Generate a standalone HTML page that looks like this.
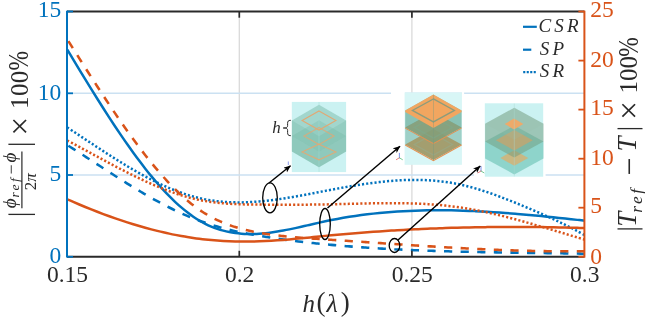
<!DOCTYPE html>
<html><head><meta charset="utf-8"><title>Figure</title>
<style>html,body{margin:0;padding:0;background:#fff;overflow:hidden}svg{display:block;will-change:transform;opacity:0.999}</style>
</head><body>
<svg width="645" height="321" viewBox="0 0 645 321">
<rect width="645" height="321" fill="#fff"/>
<line x1="239.3" y1="11.5" x2="239.3" y2="256.8" stroke="#dadada" stroke-width="1.3"/>
<line x1="411.9" y1="11.5" x2="411.9" y2="256.8" stroke="#dadada" stroke-width="1.3"/>
<line x1="67.0" y1="93.3" x2="584.4" y2="93.3" stroke="#cbe1f2" stroke-width="1.4"/>
<line x1="67.0" y1="175.0" x2="584.4" y2="175.0" stroke="#cbe1f2" stroke-width="1.4"/>
<rect x="518" y="13" width="65" height="74" fill="#fff"/>
<g clip-path="url(#clip)">
<path d="M67.30 145.08 C67.80 145.39 69.30 146.33 70.30 146.97 C71.30 147.60 72.30 148.23 73.30 148.87 C74.30 149.50 75.30 150.14 76.30 150.78 C77.30 151.42 78.30 152.06 79.30 152.70 C80.30 153.34 81.30 153.99 82.30 154.63 C83.30 155.27 84.30 155.92 85.30 156.57 C86.30 157.21 87.30 157.86 88.30 158.51 C89.30 159.16 90.30 159.81 91.30 160.45 C92.30 161.10 93.30 161.75 94.30 162.40 C95.30 163.05 96.30 163.70 97.30 164.35 C98.30 165.00 99.30 165.65 100.30 166.30 C101.30 166.95 102.30 167.60 103.30 168.24 C104.30 168.89 105.30 169.54 106.30 170.19 C107.30 170.83 108.30 171.48 109.30 172.12 C110.30 172.77 111.30 173.41 112.30 174.05 C113.30 174.69 114.30 175.33 115.30 175.97 C116.30 176.61 117.30 177.25 118.30 177.88 C119.30 178.52 120.30 179.15 121.30 179.78 C122.30 180.42 123.30 181.05 124.30 181.67 C125.30 182.30 126.30 182.92 127.30 183.55 C128.30 184.17 129.30 184.79 130.30 185.40 C131.30 186.02 132.30 186.63 133.30 187.24 C134.30 187.85 135.30 188.46 136.30 189.07 C137.30 189.67 138.30 190.27 139.30 190.87 C140.30 191.46 141.30 192.06 142.30 192.65 C143.30 193.24 144.30 193.82 145.30 194.41 C146.30 194.99 147.30 195.57 148.30 196.14 C149.30 196.71 150.30 197.28 151.30 197.85 C152.30 198.41 153.30 198.97 154.30 199.53 C155.30 200.09 156.30 200.64 157.30 201.19 C158.30 201.73 159.30 202.27 160.30 202.81 C161.30 203.35 162.30 203.88 163.30 204.41 C164.30 204.93 165.30 205.45 166.30 205.97 C167.30 206.49 168.30 207.00 169.30 207.50 C170.30 208.00 171.30 208.50 172.30 209.00 C173.30 209.49 174.30 209.98 175.30 210.46 C176.30 210.94 177.30 211.41 178.30 211.88 C179.30 212.35 180.30 212.81 181.30 213.27 C182.30 213.72 183.30 214.17 184.30 214.61 C185.30 215.05 186.30 215.49 187.30 215.92 C188.30 216.34 189.30 216.77 190.30 217.18 C191.30 217.59 192.30 218.00 193.30 218.40 C194.30 218.80 195.30 219.19 196.30 219.57 C197.30 219.96 198.30 220.33 199.30 220.70 C200.30 221.07 201.30 221.43 202.30 221.79 C203.30 222.14 204.30 222.49 205.30 222.82 C206.30 223.16 207.30 223.50 208.30 223.82 C209.30 224.15 210.30 224.47 211.30 224.78 C212.30 225.09 213.30 225.40 214.30 225.70 C215.30 225.99 216.30 226.29 217.30 226.57 C218.30 226.86 219.30 227.14 220.30 227.42 C221.30 227.69 222.30 227.96 223.30 228.23 C224.30 228.49 225.30 228.75 226.30 229.00 C227.30 229.26 228.30 229.50 229.30 229.75 C230.30 229.99 231.30 230.23 232.30 230.46 C233.30 230.70 234.30 230.92 235.30 231.15 C236.30 231.37 237.30 231.59 238.30 231.81 C239.30 232.02 240.30 232.23 241.30 232.44 C242.30 232.65 243.30 232.85 244.30 233.05 C245.30 233.25 246.30 233.45 247.30 233.64 C248.30 233.83 249.30 234.02 250.30 234.21 C251.30 234.39 252.30 234.58 253.30 234.76 C254.30 234.94 255.30 235.11 256.30 235.29 C257.30 235.46 258.30 235.64 259.30 235.81 C260.30 235.97 261.30 236.14 262.30 236.31 C263.30 236.47 264.30 236.63 265.30 236.79 C266.30 236.96 267.30 237.11 268.30 237.27 C269.30 237.43 270.30 237.58 271.30 237.73 C272.30 237.89 273.30 238.04 274.30 238.19 C275.30 238.34 276.30 238.48 277.30 238.63 C278.30 238.77 279.30 238.91 280.30 239.06 C281.30 239.20 282.30 239.34 283.30 239.47 C284.30 239.61 285.30 239.75 286.30 239.88 C287.30 240.01 288.30 240.15 289.30 240.28 C290.30 240.41 291.30 240.54 292.30 240.66 C293.30 240.79 294.30 240.91 295.30 241.04 C296.30 241.16 297.30 241.28 298.30 241.40 C299.30 241.52 300.30 241.64 301.30 241.76 C302.30 241.88 303.30 241.99 304.30 242.11 C305.30 242.22 306.30 242.34 307.30 242.45 C308.30 242.56 309.30 242.67 310.30 242.78 C311.30 242.89 312.30 242.99 313.30 243.10 C314.30 243.20 315.30 243.31 316.30 243.41 C317.30 243.51 318.30 243.62 319.30 243.72 C320.30 243.82 321.30 243.92 322.30 244.01 C323.30 244.11 324.30 244.21 325.30 244.30 C326.30 244.40 327.30 244.49 328.30 244.59 C329.30 244.68 330.30 244.77 331.30 244.86 C332.30 244.95 333.30 245.04 334.30 245.13 C335.30 245.22 336.30 245.31 337.30 245.40 C338.30 245.48 339.30 245.57 340.30 245.65 C341.30 245.74 342.30 245.82 343.30 245.90 C344.30 245.98 345.30 246.07 346.30 246.15 C347.30 246.23 348.30 246.30 349.30 246.38 C350.30 246.46 351.30 246.54 352.30 246.61 C353.30 246.69 354.30 246.76 355.30 246.84 C356.30 246.91 357.30 246.99 358.30 247.06 C359.30 247.13 360.30 247.20 361.30 247.27 C362.30 247.34 363.30 247.41 364.30 247.48 C365.30 247.55 366.30 247.61 367.30 247.68 C368.30 247.75 369.30 247.81 370.30 247.87 C371.30 247.94 372.30 248.00 373.30 248.07 C374.30 248.13 375.30 248.19 376.30 248.25 C377.30 248.31 378.30 248.37 379.30 248.43 C380.30 248.49 381.30 248.55 382.30 248.61 C383.30 248.66 384.30 248.72 385.30 248.77 C386.30 248.83 387.30 248.89 388.30 248.94 C389.30 248.99 390.30 249.05 391.30 249.10 C392.30 249.15 393.30 249.20 394.30 249.25 C395.30 249.30 396.30 249.35 397.30 249.40 C398.30 249.45 399.30 249.50 400.30 249.55 C401.30 249.60 402.30 249.64 403.30 249.69 C404.30 249.74 405.30 249.78 406.30 249.83 C407.30 249.87 408.30 249.92 409.30 249.96 C410.30 250.00 411.30 250.05 412.30 250.09 C413.30 250.13 414.30 250.17 415.30 250.21 C416.30 250.25 417.30 250.29 418.30 250.33 C419.30 250.37 420.30 250.41 421.30 250.45 C422.30 250.49 423.30 250.52 424.30 250.56 C425.30 250.60 426.30 250.63 427.30 250.67 C428.30 250.71 429.30 250.74 430.30 250.77 C431.30 250.81 432.30 250.84 433.30 250.88 C434.30 250.91 435.30 250.94 436.30 250.97 C437.30 251.01 438.30 251.04 439.30 251.07 C440.30 251.10 441.30 251.13 442.30 251.16 C443.30 251.19 444.30 251.22 445.30 251.25 C446.30 251.28 447.30 251.31 448.30 251.34 C449.30 251.36 450.30 251.39 451.30 251.42 C452.30 251.45 453.30 251.47 454.30 251.50 C455.30 251.52 456.30 251.55 457.30 251.58 C458.30 251.60 459.30 251.63 460.30 251.65 C461.30 251.67 462.30 251.70 463.30 251.72 C464.30 251.75 465.30 251.77 466.30 251.79 C467.30 251.81 468.30 251.84 469.30 251.86 C470.30 251.88 471.30 251.90 472.30 251.92 C473.30 251.95 474.30 251.97 475.30 251.99 C476.30 252.01 477.30 252.03 478.30 252.05 C479.30 252.07 480.30 252.09 481.30 252.11 C482.30 252.13 483.30 252.15 484.30 252.16 C485.30 252.18 486.30 252.20 487.30 252.22 C488.30 252.24 489.30 252.26 490.30 252.27 C491.30 252.29 492.30 252.31 493.30 252.33 C494.30 252.34 495.30 252.36 496.30 252.38 C497.30 252.39 498.30 252.41 499.30 252.43 C500.30 252.44 501.30 252.46 502.30 252.48 C503.30 252.49 504.30 252.51 505.30 252.52 C506.30 252.54 507.30 252.55 508.30 252.57 C509.30 252.59 510.30 252.60 511.30 252.62 C512.30 252.63 513.30 252.65 514.30 252.66 C515.30 252.67 516.30 252.69 517.30 252.70 C518.30 252.72 519.30 252.73 520.30 252.75 C521.30 252.76 522.30 252.78 523.30 252.79 C524.30 252.80 525.30 252.82 526.30 252.83 C527.30 252.85 528.30 252.86 529.30 252.87 C530.30 252.89 531.30 252.90 532.30 252.92 C533.30 252.93 534.30 252.94 535.30 252.96 C536.30 252.97 537.30 252.98 538.30 253.00 C539.30 253.01 540.30 253.03 541.30 253.04 C542.30 253.05 543.30 253.07 544.30 253.08 C545.30 253.10 546.30 253.11 547.30 253.12 C548.30 253.14 549.30 253.15 550.30 253.17 C551.30 253.18 552.30 253.20 553.30 253.21 C554.30 253.22 555.30 253.24 556.30 253.25 C557.30 253.27 558.30 253.28 559.30 253.30 C560.30 253.31 561.30 253.33 562.30 253.34 C563.30 253.36 564.30 253.37 565.30 253.39 C566.30 253.40 567.30 253.42 568.30 253.43 C569.30 253.45 570.30 253.47 571.30 253.48 C572.30 253.50 573.30 253.51 574.30 253.53 C575.30 253.55 576.30 253.56 577.30 253.58 C578.30 253.60 579.30 253.62 580.30 253.63 C581.30 253.65 582.62 253.67 583.30 253.69 C583.98 253.70 584.22 253.70 584.40 253.71" fill="none" stroke="#0072BD" stroke-width="2.55" stroke-dasharray="8.2 8.4" stroke-dashoffset="15.10"/>
<path d="M67.30 127.46 C68.30 128.12 71.30 130.09 73.30 131.41 C75.30 132.73 77.30 134.05 79.30 135.37 C81.30 136.69 83.30 138.02 85.30 139.34 C87.30 140.67 89.30 141.99 91.30 143.31 C93.30 144.63 95.30 145.94 97.30 147.25 C99.30 148.56 101.30 149.87 103.30 151.16 C105.30 152.46 107.30 153.75 109.30 155.03 C111.30 156.30 113.30 157.57 115.30 158.83 C117.30 160.08 119.30 161.33 121.30 162.56 C123.30 163.78 125.30 165.00 127.30 166.20 C129.30 167.39 131.30 168.58 133.30 169.74 C135.30 170.90 137.30 172.04 139.30 173.16 C141.30 174.28 143.30 175.38 145.30 176.46 C147.30 177.53 149.30 178.58 151.30 179.61 C153.30 180.63 155.30 181.64 157.30 182.61 C159.30 183.58 161.30 184.52 163.30 185.44 C165.30 186.35 167.30 187.23 169.30 188.08 C171.30 188.93 173.30 189.75 175.30 190.53 C177.30 191.31 179.30 192.06 181.30 192.77 C183.30 193.48 185.30 194.16 187.30 194.79 C189.30 195.42 191.30 196.02 193.30 196.57 C195.30 197.12 197.30 197.63 199.30 198.10 C201.30 198.57 203.30 198.99 205.30 199.38 C207.30 199.76 209.30 200.10 211.30 200.41 C213.30 200.72 215.30 200.98 217.30 201.21 C219.30 201.45 221.30 201.64 223.30 201.80 C225.30 201.96 227.30 202.09 229.30 202.18 C231.30 202.28 233.30 202.34 235.30 202.37 C237.30 202.41 239.30 202.41 241.30 202.39 C243.30 202.36 245.30 202.31 247.30 202.23 C249.30 202.16 251.30 202.05 253.30 201.93 C255.30 201.80 257.30 201.65 259.30 201.48 C261.30 201.31 263.30 201.11 265.30 200.90 C267.30 200.69 269.30 200.46 271.30 200.21 C273.30 199.96 275.30 199.69 277.30 199.41 C279.30 199.13 281.30 198.84 283.30 198.53 C285.30 198.22 287.30 197.90 289.30 197.57 C291.30 197.24 293.30 196.89 295.30 196.54 C297.30 196.19 299.30 195.83 301.30 195.46 C303.30 195.10 305.30 194.72 307.30 194.35 C309.30 193.97 311.30 193.59 313.30 193.20 C315.30 192.82 317.30 192.43 319.30 192.05 C321.30 191.66 323.30 191.27 325.30 190.89 C327.30 190.50 329.30 190.12 331.30 189.74 C333.30 189.36 335.30 188.99 337.30 188.62 C339.30 188.25 341.30 187.88 343.30 187.52 C345.30 187.16 347.30 186.81 349.30 186.46 C351.30 186.12 353.30 185.78 355.30 185.46 C357.30 185.13 359.30 184.81 361.30 184.50 C363.30 184.20 365.30 183.90 367.30 183.62 C369.30 183.33 371.30 183.06 373.30 182.80 C375.30 182.54 377.30 182.30 379.30 182.07 C381.30 181.84 383.30 181.63 385.30 181.43 C387.30 181.23 389.30 181.05 391.30 180.88 C393.30 180.72 395.30 180.58 397.30 180.45 C399.30 180.32 401.30 180.22 403.30 180.13 C405.30 180.04 407.30 179.98 409.30 179.94 C411.30 179.89 413.30 179.87 415.30 179.88 C417.30 179.88 419.30 179.90 421.30 179.96 C423.30 180.01 425.30 180.08 427.30 180.19 C429.30 180.29 431.30 180.42 433.30 180.58 C435.30 180.74 437.30 180.92 439.30 181.14 C441.30 181.35 443.30 181.60 445.30 181.87 C447.30 182.15 449.30 182.46 451.30 182.79 C453.30 183.13 455.30 183.50 457.30 183.91 C459.30 184.31 461.30 184.75 463.30 185.22 C465.30 185.69 467.30 186.19 469.30 186.72 C471.30 187.25 473.30 187.81 475.30 188.39 C477.30 188.97 479.30 189.58 481.30 190.21 C483.30 190.85 485.30 191.50 487.30 192.18 C489.30 192.86 491.30 193.55 493.30 194.27 C495.30 194.98 497.30 195.72 499.30 196.47 C501.30 197.21 503.30 197.98 505.30 198.76 C507.30 199.53 509.30 200.33 511.30 201.12 C513.30 201.92 515.30 202.74 517.30 203.55 C519.30 204.37 521.30 205.20 523.30 206.03 C525.30 206.86 527.30 207.70 529.30 208.54 C531.30 209.39 533.30 210.24 535.30 211.10 C537.30 211.96 539.30 212.83 541.30 213.71 C543.30 214.59 545.30 215.49 547.30 216.39 C549.30 217.30 551.30 218.21 553.30 219.14 C555.30 220.07 557.30 221.02 559.30 221.98 C561.30 222.94 563.30 223.92 565.30 224.91 C567.30 225.91 569.30 226.92 571.30 227.95 C573.30 228.98 575.30 230.03 577.30 231.11 C579.30 232.18 582.12 233.74 583.30 234.38 C584.48 235.03 584.22 234.90 584.40 235.00" fill="none" stroke="#0072BD" stroke-width="2.50" stroke-dasharray="2.1 2.1"/>
<path d="M67.30 49.68 C68.30 51.34 71.30 56.33 73.30 59.64 C75.30 62.95 77.30 66.25 79.30 69.54 C81.30 72.84 83.30 76.12 85.30 79.39 C87.30 82.65 89.30 85.91 91.30 89.14 C93.30 92.37 95.30 95.59 97.30 98.77 C99.30 101.96 101.30 105.13 103.30 108.27 C105.30 111.40 107.30 114.52 109.30 117.59 C111.30 120.67 113.30 123.72 115.30 126.73 C117.30 129.74 119.30 132.71 121.30 135.65 C123.30 138.58 125.30 141.48 127.30 144.32 C129.30 147.17 131.30 149.98 133.30 152.73 C135.30 155.49 137.30 158.20 139.30 160.85 C141.30 163.51 143.30 166.11 145.30 168.65 C147.30 171.20 149.30 173.69 151.30 176.11 C153.30 178.54 155.30 180.91 157.30 183.21 C159.30 185.51 161.30 187.75 163.30 189.91 C165.30 192.07 167.30 194.17 169.30 196.19 C171.30 198.22 173.30 200.17 175.30 202.04 C177.30 203.91 179.30 205.70 181.30 207.41 C183.30 209.12 185.30 210.76 187.30 212.30 C189.30 213.84 191.30 215.30 193.30 216.66 C195.30 218.03 197.30 219.31 199.30 220.49 C201.30 221.67 203.30 222.76 205.30 223.77 C207.30 224.78 209.30 225.69 211.30 226.53 C213.30 227.37 215.30 228.13 217.30 228.81 C219.30 229.49 221.30 230.09 223.30 230.63 C225.30 231.17 227.30 231.63 229.30 232.03 C231.30 232.43 233.30 232.75 235.30 233.03 C237.30 233.30 239.30 233.51 241.30 233.67 C243.30 233.82 245.30 233.92 247.30 233.97 C249.30 234.02 251.30 234.02 253.30 233.98 C255.30 233.93 257.30 233.84 259.30 233.71 C261.30 233.58 263.30 233.41 265.30 233.21 C267.30 233.00 269.30 232.76 271.30 232.49 C273.30 232.22 275.30 231.92 277.30 231.59 C279.30 231.27 281.30 230.91 283.30 230.54 C285.30 230.17 287.30 229.78 289.30 229.37 C291.30 228.96 293.30 228.54 295.30 228.10 C297.30 227.67 299.30 227.22 301.30 226.77 C303.30 226.31 305.30 225.85 307.30 225.39 C309.30 224.93 311.30 224.46 313.30 224.01 C315.30 223.55 317.30 223.09 319.30 222.64 C321.30 222.19 323.30 221.75 325.30 221.32 C327.30 220.90 329.30 220.48 331.30 220.08 C333.30 219.68 335.30 219.29 337.30 218.92 C339.30 218.55 341.30 218.19 343.30 217.84 C345.30 217.50 347.30 217.16 349.30 216.84 C351.30 216.53 353.30 216.22 355.30 215.93 C357.30 215.63 359.30 215.35 361.30 215.08 C363.30 214.82 365.30 214.56 367.30 214.32 C369.30 214.07 371.30 213.84 373.30 213.62 C375.30 213.40 377.30 213.20 379.30 213.00 C381.30 212.80 383.30 212.62 385.30 212.45 C387.30 212.27 389.30 212.11 391.30 211.96 C393.30 211.81 395.30 211.67 397.30 211.54 C399.30 211.41 401.30 211.29 403.30 211.18 C405.30 211.07 407.30 210.97 409.30 210.88 C411.30 210.79 413.30 210.72 415.30 210.65 C417.30 210.58 419.30 210.52 421.30 210.47 C423.30 210.42 425.30 210.38 427.30 210.34 C429.30 210.31 431.30 210.29 433.30 210.27 C435.30 210.26 437.30 210.25 439.30 210.26 C441.30 210.26 443.30 210.27 445.30 210.29 C447.30 210.31 449.30 210.34 451.30 210.37 C453.30 210.40 455.30 210.45 457.30 210.50 C459.30 210.55 461.30 210.60 463.30 210.67 C465.30 210.73 467.30 210.80 469.30 210.88 C471.30 210.96 473.30 211.05 475.30 211.14 C477.30 211.23 479.30 211.33 481.30 211.43 C483.30 211.54 485.30 211.65 487.30 211.76 C489.30 211.88 491.30 212.00 493.30 212.13 C495.30 212.26 497.30 212.39 499.30 212.53 C501.30 212.67 503.30 212.81 505.30 212.96 C507.30 213.11 509.30 213.26 511.30 213.42 C513.30 213.57 515.30 213.74 517.30 213.90 C519.30 214.07 521.30 214.24 523.30 214.42 C525.30 214.59 527.30 214.77 529.30 214.95 C531.30 215.13 533.30 215.32 535.30 215.51 C537.30 215.70 539.30 215.89 541.30 216.09 C543.30 216.28 545.30 216.48 547.30 216.68 C549.30 216.89 551.30 217.09 553.30 217.30 C555.30 217.50 557.30 217.71 559.30 217.92 C561.30 218.13 563.30 218.35 565.30 218.56 C567.30 218.77 569.30 218.99 571.30 219.21 C573.30 219.43 575.30 219.65 577.30 219.87 C579.30 220.09 582.12 220.40 583.30 220.53 C584.48 220.66 584.22 220.63 584.40 220.65" fill="none" stroke="#0072BD" stroke-width="2.50"/>
<path d="M67.30 199.28 C68.30 199.72 71.30 201.05 73.30 201.92 C75.30 202.78 77.30 203.64 79.30 204.48 C81.30 205.33 83.30 206.16 85.30 206.98 C87.30 207.80 89.30 208.61 91.30 209.41 C93.30 210.21 95.30 210.99 97.30 211.77 C99.30 212.54 101.30 213.30 103.30 214.05 C105.30 214.80 107.30 215.53 109.30 216.25 C111.30 216.97 113.30 217.68 115.30 218.38 C117.30 219.07 119.30 219.76 121.30 220.42 C123.30 221.09 125.30 221.75 127.30 222.39 C129.30 223.03 131.30 223.65 133.30 224.27 C135.30 224.88 137.30 225.48 139.30 226.06 C141.30 226.64 143.30 227.21 145.30 227.76 C147.30 228.31 149.30 228.85 151.30 229.37 C153.30 229.89 155.30 230.40 157.30 230.89 C159.30 231.38 161.30 231.86 163.30 232.31 C165.30 232.77 167.30 233.22 169.30 233.64 C171.30 234.07 173.30 234.48 175.30 234.87 C177.30 235.26 179.30 235.64 181.30 236.00 C183.30 236.35 185.30 236.70 187.30 237.02 C189.30 237.34 191.30 237.65 193.30 237.94 C195.30 238.23 197.30 238.50 199.30 238.75 C201.30 239.00 203.30 239.24 205.30 239.45 C207.30 239.67 209.30 239.87 211.30 240.05 C213.30 240.23 215.30 240.40 217.30 240.55 C219.30 240.69 221.30 240.82 223.30 240.94 C225.30 241.05 227.30 241.15 229.30 241.24 C231.30 241.32 233.30 241.38 235.30 241.44 C237.30 241.49 239.30 241.52 241.30 241.54 C243.30 241.56 245.30 241.56 247.30 241.55 C249.30 241.54 251.30 241.52 253.30 241.48 C255.30 241.44 257.30 241.39 259.30 241.32 C261.30 241.25 263.30 241.17 265.30 241.07 C267.30 240.98 269.30 240.87 271.30 240.75 C273.30 240.63 275.30 240.49 277.30 240.35 C279.30 240.21 281.30 240.06 283.30 239.90 C285.30 239.74 287.30 239.57 289.30 239.40 C291.30 239.22 293.30 239.04 295.30 238.85 C297.30 238.67 299.30 238.48 301.30 238.28 C303.30 238.09 305.30 237.89 307.30 237.69 C309.30 237.49 311.30 237.28 313.30 237.08 C315.30 236.88 317.30 236.68 319.30 236.48 C321.30 236.27 323.30 236.07 325.30 235.88 C327.30 235.68 329.30 235.49 331.30 235.30 C333.30 235.11 335.30 234.92 337.30 234.74 C339.30 234.55 341.30 234.37 343.30 234.20 C345.30 234.02 347.30 233.85 349.30 233.68 C351.30 233.51 353.30 233.34 355.30 233.18 C357.30 233.02 359.30 232.86 361.30 232.70 C363.30 232.54 365.30 232.39 367.30 232.24 C369.30 232.09 371.30 231.95 373.30 231.80 C375.30 231.66 377.30 231.52 379.30 231.39 C381.30 231.25 383.30 231.12 385.30 230.99 C387.30 230.86 389.30 230.73 391.30 230.61 C393.30 230.49 395.30 230.37 397.30 230.25 C399.30 230.13 401.30 230.02 403.30 229.91 C405.30 229.80 407.30 229.69 409.30 229.59 C411.30 229.48 413.30 229.38 415.30 229.29 C417.30 229.19 419.30 229.10 421.30 229.00 C423.30 228.91 425.30 228.82 427.30 228.74 C429.30 228.66 431.30 228.57 433.30 228.49 C435.30 228.42 437.30 228.34 439.30 228.27 C441.30 228.20 443.30 228.13 445.30 228.06 C447.30 227.99 449.30 227.93 451.30 227.87 C453.30 227.81 455.30 227.75 457.30 227.70 C459.30 227.64 461.30 227.59 463.30 227.54 C465.30 227.49 467.30 227.45 469.30 227.41 C471.30 227.36 473.30 227.32 475.30 227.29 C477.30 227.25 479.30 227.22 481.30 227.19 C483.30 227.15 485.30 227.13 487.30 227.10 C489.30 227.08 491.30 227.05 493.30 227.03 C495.30 227.02 497.30 227.00 499.30 226.99 C501.30 226.97 503.30 226.96 505.30 226.95 C507.30 226.94 509.30 226.94 511.30 226.94 C513.30 226.93 515.30 226.93 517.30 226.94 C519.30 226.94 521.30 226.95 523.30 226.95 C525.30 226.96 527.30 226.97 529.30 226.99 C531.30 227.00 533.30 227.02 535.30 227.04 C537.30 227.06 539.30 227.08 541.30 227.10 C543.30 227.13 545.30 227.16 547.30 227.19 C549.30 227.22 551.30 227.25 553.30 227.28 C555.30 227.32 557.30 227.36 559.30 227.40 C561.30 227.44 563.30 227.48 565.30 227.53 C567.30 227.57 569.30 227.62 571.30 227.67 C573.30 227.72 575.30 227.78 577.30 227.83 C579.30 227.89 582.12 227.97 583.30 228.01 C584.48 228.04 584.22 228.03 584.40 228.04" fill="none" stroke="#D95319" stroke-width="2.50"/>
<path d="M67.30 140.48 C68.30 141.02 71.30 142.62 73.30 143.69 C75.30 144.77 77.30 145.85 79.30 146.93 C81.30 148.02 83.30 149.10 85.30 150.19 C87.30 151.27 89.30 152.36 91.30 153.45 C93.30 154.53 95.30 155.62 97.30 156.70 C99.30 157.78 101.30 158.86 103.30 159.93 C105.30 161.01 107.30 162.08 109.30 163.14 C111.30 164.20 113.30 165.26 115.30 166.31 C117.30 167.36 119.30 168.40 121.30 169.43 C123.30 170.46 125.30 171.48 127.30 172.49 C129.30 173.49 131.30 174.49 133.30 175.47 C135.30 176.46 137.30 177.43 139.30 178.38 C141.30 179.33 143.30 180.27 145.30 181.19 C147.30 182.11 149.30 183.01 151.30 183.89 C153.30 184.77 155.30 185.63 157.30 186.47 C159.30 187.30 161.30 188.12 163.30 188.91 C165.30 189.70 167.30 190.46 169.30 191.20 C171.30 191.93 173.30 192.65 175.30 193.33 C177.30 194.00 179.30 194.66 181.30 195.28 C183.30 195.89 185.30 196.48 187.30 197.04 C189.30 197.59 191.30 198.11 193.30 198.59 C195.30 199.07 197.30 199.52 199.30 199.93 C201.30 200.34 203.30 200.71 205.30 201.05 C207.30 201.39 209.30 201.69 211.30 201.97 C213.30 202.24 215.30 202.49 217.30 202.71 C219.30 202.93 221.30 203.12 223.30 203.29 C225.30 203.46 227.30 203.61 229.30 203.73 C231.30 203.86 233.30 203.97 235.30 204.06 C237.30 204.15 239.30 204.22 241.30 204.29 C243.30 204.35 245.30 204.40 247.30 204.44 C249.30 204.48 251.30 204.51 253.30 204.53 C255.30 204.56 257.30 204.57 259.30 204.59 C261.30 204.60 263.30 204.62 265.30 204.63 C267.30 204.64 269.30 204.65 271.30 204.66 C273.30 204.67 275.30 204.68 277.30 204.69 C279.30 204.70 281.30 204.70 283.30 204.71 C285.30 204.71 287.30 204.71 289.30 204.71 C291.30 204.71 293.30 204.71 295.30 204.70 C297.30 204.70 299.30 204.69 301.30 204.68 C303.30 204.67 305.30 204.66 307.30 204.64 C309.30 204.63 311.30 204.61 313.30 204.59 C315.30 204.57 317.30 204.54 319.30 204.51 C321.30 204.49 323.30 204.46 325.30 204.42 C327.30 204.39 329.30 204.35 331.30 204.30 C333.30 204.26 335.30 204.22 337.30 204.17 C339.30 204.12 341.30 204.07 343.30 204.02 C345.30 203.97 347.30 203.92 349.30 203.87 C351.30 203.82 353.30 203.77 355.30 203.72 C357.30 203.67 359.30 203.62 361.30 203.57 C363.30 203.52 365.30 203.48 367.30 203.43 C369.30 203.39 371.30 203.35 373.30 203.32 C375.30 203.28 377.30 203.25 379.30 203.22 C381.30 203.20 383.30 203.18 385.30 203.16 C387.30 203.15 389.30 203.14 391.30 203.14 C393.30 203.14 395.30 203.14 397.30 203.15 C399.30 203.17 401.30 203.19 403.30 203.22 C405.30 203.25 407.30 203.29 409.30 203.34 C411.30 203.39 413.30 203.45 415.30 203.52 C417.30 203.59 419.30 203.68 421.30 203.77 C423.30 203.87 425.30 203.97 427.30 204.09 C429.30 204.22 431.30 204.35 433.30 204.50 C435.30 204.64 437.30 204.81 439.30 204.98 C441.30 205.16 443.30 205.35 445.30 205.56 C447.30 205.77 449.30 206.00 451.30 206.24 C453.30 206.48 455.30 206.74 457.30 207.02 C459.30 207.30 461.30 207.59 463.30 207.91 C465.30 208.22 467.30 208.55 469.30 208.90 C471.30 209.25 473.30 209.61 475.30 209.99 C477.30 210.37 479.30 210.76 481.30 211.17 C483.30 211.58 485.30 212.00 487.30 212.44 C489.30 212.87 491.30 213.32 493.30 213.78 C495.30 214.24 497.30 214.72 499.30 215.20 C501.30 215.68 503.30 216.18 505.30 216.68 C507.30 217.19 509.30 217.71 511.30 218.23 C513.30 218.75 515.30 219.29 517.30 219.83 C519.30 220.37 521.30 220.92 523.30 221.48 C525.30 222.03 527.30 222.60 529.30 223.16 C531.30 223.73 533.30 224.31 535.30 224.89 C537.30 225.47 539.30 226.05 541.30 226.64 C543.30 227.23 545.30 227.82 547.30 228.42 C549.30 229.01 551.30 229.61 553.30 230.21 C555.30 230.81 557.30 231.41 559.30 232.01 C561.30 232.62 563.30 233.22 565.30 233.82 C567.30 234.43 569.30 235.03 571.30 235.63 C573.30 236.23 575.30 236.83 577.30 237.43 C579.30 238.03 582.12 238.86 583.30 239.21 C584.48 239.56 584.22 239.48 584.40 239.54" fill="none" stroke="#D95319" stroke-width="2.50" stroke-dasharray="2.1 2.1"/>
<path d="M67.30 39.39 C67.80 40.19 69.30 42.56 70.30 44.14 C71.30 45.72 72.30 47.30 73.30 48.88 C74.30 50.46 75.30 52.04 76.30 53.62 C77.30 55.20 78.30 56.78 79.30 58.35 C80.30 59.93 81.30 61.50 82.30 63.08 C83.30 64.65 84.30 66.22 85.30 67.79 C86.30 69.36 87.30 70.93 88.30 72.49 C89.30 74.05 90.30 75.61 91.30 77.17 C92.30 78.73 93.30 80.28 94.30 81.83 C95.30 83.38 96.30 84.93 97.30 86.47 C98.30 88.01 99.30 89.55 100.30 91.08 C101.30 92.61 102.30 94.14 103.30 95.67 C104.30 97.19 105.30 98.71 106.30 100.22 C107.30 101.73 108.30 103.23 109.30 104.73 C110.30 106.23 111.30 107.73 112.30 109.21 C113.30 110.70 114.30 112.18 115.30 113.65 C116.30 115.12 117.30 116.59 118.30 118.05 C119.30 119.50 120.30 120.95 121.30 122.40 C122.30 123.84 123.30 125.27 124.30 126.70 C125.30 128.12 126.30 129.54 127.30 130.94 C128.30 132.35 129.30 133.75 130.30 135.14 C131.30 136.52 132.30 137.90 133.30 139.27 C134.30 140.64 135.30 142.00 136.30 143.34 C137.30 144.69 138.30 146.03 139.30 147.35 C140.30 148.68 141.30 149.99 142.30 151.30 C143.30 152.60 144.30 153.89 145.30 155.17 C146.30 156.45 147.30 157.72 148.30 158.97 C149.30 160.23 150.30 161.47 151.30 162.70 C152.30 163.93 153.30 165.14 154.30 166.34 C155.30 167.55 156.30 168.74 157.30 169.91 C158.30 171.09 159.30 172.25 160.30 173.39 C161.30 174.54 162.30 175.67 163.30 176.79 C164.30 177.91 165.30 179.01 166.30 180.09 C167.30 181.18 168.30 182.25 169.30 183.31 C170.30 184.36 171.30 185.40 172.30 186.42 C173.30 187.45 174.30 188.45 175.30 189.44 C176.30 190.43 177.30 191.40 178.30 192.36 C179.30 193.31 180.30 194.25 181.30 195.17 C182.30 196.09 183.30 196.99 184.30 197.88 C185.30 198.76 186.30 199.63 187.30 200.47 C188.30 201.32 189.30 202.15 190.30 202.95 C191.30 203.76 192.30 204.55 193.30 205.32 C194.30 206.09 195.30 206.84 196.30 207.57 C197.30 208.30 198.30 209.00 199.30 209.69 C200.30 210.38 201.30 211.05 202.30 211.70 C203.30 212.35 204.30 212.98 205.30 213.59 C206.30 214.20 207.30 214.79 208.30 215.37 C209.30 215.94 210.30 216.50 211.30 217.04 C212.30 217.58 213.30 218.10 214.30 218.61 C215.30 219.12 216.30 219.60 217.30 220.08 C218.30 220.55 219.30 221.01 220.30 221.46 C221.30 221.90 222.30 222.33 223.30 222.74 C224.30 223.16 225.30 223.56 226.30 223.95 C227.30 224.33 228.30 224.71 229.30 225.07 C230.30 225.43 231.30 225.77 232.30 226.11 C233.30 226.45 234.30 226.77 235.30 227.08 C236.30 227.39 237.30 227.69 238.30 227.98 C239.30 228.27 240.30 228.55 241.30 228.82 C242.30 229.09 243.30 229.35 244.30 229.60 C245.30 229.85 246.30 230.09 247.30 230.33 C248.30 230.56 249.30 230.78 250.30 231.00 C251.30 231.22 252.30 231.43 253.30 231.63 C254.30 231.83 255.30 232.02 256.30 232.21 C257.30 232.40 258.30 232.58 259.30 232.76 C260.30 232.94 261.30 233.11 262.30 233.27 C263.30 233.44 264.30 233.60 265.30 233.76 C266.30 233.91 267.30 234.06 268.30 234.21 C269.30 234.36 270.30 234.50 271.30 234.64 C272.30 234.78 273.30 234.91 274.30 235.04 C275.30 235.17 276.30 235.30 277.30 235.42 C278.30 235.54 279.30 235.66 280.30 235.78 C281.30 235.89 282.30 236.01 283.30 236.12 C284.30 236.22 285.30 236.33 286.30 236.43 C287.30 236.54 288.30 236.63 289.30 236.73 C290.30 236.83 291.30 236.92 292.30 237.01 C293.30 237.11 294.30 237.19 295.30 237.28 C296.30 237.37 297.30 237.45 298.30 237.53 C299.30 237.62 300.30 237.70 301.30 237.78 C302.30 237.85 303.30 237.93 304.30 238.01 C305.30 238.08 306.30 238.15 307.30 238.23 C308.30 238.30 309.30 238.37 310.30 238.44 C311.30 238.51 312.30 238.58 313.30 238.64 C314.30 238.71 315.30 238.78 316.30 238.84 C317.30 238.91 318.30 238.98 319.30 239.04 C320.30 239.11 321.30 239.17 322.30 239.24 C323.30 239.30 324.30 239.36 325.30 239.43 C326.30 239.49 327.30 239.56 328.30 239.62 C329.30 239.69 330.30 239.75 331.30 239.82 C332.30 239.88 333.30 239.95 334.30 240.01 C335.30 240.08 336.30 240.14 337.30 240.21 C338.30 240.28 339.30 240.34 340.30 240.41 C341.30 240.47 342.30 240.54 343.30 240.61 C344.30 240.67 345.30 240.74 346.30 240.81 C347.30 240.87 348.30 240.94 349.30 241.01 C350.30 241.07 351.30 241.14 352.30 241.21 C353.30 241.28 354.30 241.34 355.30 241.41 C356.30 241.48 357.30 241.55 358.30 241.61 C359.30 241.68 360.30 241.75 361.30 241.82 C362.30 241.88 363.30 241.95 364.30 242.02 C365.30 242.09 366.30 242.15 367.30 242.22 C368.30 242.29 369.30 242.36 370.30 242.42 C371.30 242.49 372.30 242.56 373.30 242.63 C374.30 242.70 375.30 242.76 376.30 242.83 C377.30 242.90 378.30 242.97 379.30 243.03 C380.30 243.10 381.30 243.17 382.30 243.24 C383.30 243.30 384.30 243.37 385.30 243.44 C386.30 243.51 387.30 243.57 388.30 243.64 C389.30 243.71 390.30 243.77 391.30 243.84 C392.30 243.91 393.30 243.98 394.30 244.04 C395.30 244.11 396.30 244.18 397.30 244.24 C398.30 244.31 399.30 244.37 400.30 244.44 C401.30 244.51 402.30 244.57 403.30 244.64 C404.30 244.70 405.30 244.77 406.30 244.84 C407.30 244.90 408.30 244.97 409.30 245.03 C410.30 245.10 411.30 245.16 412.30 245.23 C413.30 245.29 414.30 245.35 415.30 245.42 C416.30 245.48 417.30 245.55 418.30 245.61 C419.30 245.67 420.30 245.74 421.30 245.80 C422.30 245.86 423.30 245.93 424.30 245.99 C425.30 246.05 426.30 246.11 427.30 246.18 C428.30 246.24 429.30 246.30 430.30 246.36 C431.30 246.42 432.30 246.48 433.30 246.54 C434.30 246.60 435.30 246.67 436.30 246.73 C437.30 246.79 438.30 246.85 439.30 246.90 C440.30 246.96 441.30 247.02 442.30 247.08 C443.30 247.14 444.30 247.20 445.30 247.26 C446.30 247.31 447.30 247.37 448.30 247.43 C449.30 247.49 450.30 247.54 451.30 247.60 C452.30 247.65 453.30 247.71 454.30 247.77 C455.30 247.82 456.30 247.88 457.30 247.93 C458.30 247.98 459.30 248.04 460.30 248.09 C461.30 248.15 462.30 248.20 463.30 248.25 C464.30 248.30 465.30 248.36 466.30 248.41 C467.30 248.46 468.30 248.51 469.30 248.56 C470.30 248.61 471.30 248.66 472.30 248.71 C473.30 248.76 474.30 248.81 475.30 248.86 C476.30 248.90 477.30 248.95 478.30 249.00 C479.30 249.05 480.30 249.09 481.30 249.14 C482.30 249.19 483.30 249.23 484.30 249.28 C485.30 249.32 486.30 249.37 487.30 249.41 C488.30 249.45 489.30 249.50 490.30 249.54 C491.30 249.58 492.30 249.62 493.30 249.66 C494.30 249.71 495.30 249.75 496.30 249.79 C497.30 249.83 498.30 249.86 499.30 249.90 C500.30 249.94 501.30 249.98 502.30 250.02 C503.30 250.05 504.30 250.09 505.30 250.13 C506.30 250.16 507.30 250.20 508.30 250.23 C509.30 250.27 510.30 250.30 511.30 250.33 C512.30 250.36 513.30 250.40 514.30 250.43 C515.30 250.46 516.30 250.49 517.30 250.52 C518.30 250.55 519.30 250.58 520.30 250.61 C521.30 250.63 522.30 250.66 523.30 250.69 C524.30 250.72 525.30 250.74 526.30 250.77 C527.30 250.79 528.30 250.82 529.30 250.84 C530.30 250.86 531.30 250.89 532.30 250.91 C533.30 250.93 534.30 250.95 535.30 250.97 C536.30 250.99 537.30 251.01 538.30 251.03 C539.30 251.04 540.30 251.06 541.30 251.08 C542.30 251.10 543.30 251.11 544.30 251.13 C545.30 251.14 546.30 251.15 547.30 251.17 C548.30 251.18 549.30 251.19 550.30 251.20 C551.30 251.21 552.30 251.22 553.30 251.23 C554.30 251.24 555.30 251.25 556.30 251.26 C557.30 251.26 558.30 251.27 559.30 251.27 C560.30 251.28 561.30 251.28 562.30 251.29 C563.30 251.29 564.30 251.29 565.30 251.29 C566.30 251.29 567.30 251.29 568.30 251.29 C569.30 251.29 570.30 251.29 571.30 251.29 C572.30 251.28 573.30 251.28 574.30 251.27 C575.30 251.27 576.30 251.26 577.30 251.26 C578.30 251.25 579.30 251.24 580.30 251.23 C581.30 251.22 582.62 251.21 583.30 251.20 C583.98 251.19 584.22 251.19 584.40 251.18" fill="none" stroke="#D95319" stroke-width="2.55" stroke-dasharray="8.2 8.4" stroke-dashoffset="14.51"/>
</g>
<defs><clipPath id="clip"><rect x="67.0" y="11.5" width="517.4" height="245.3"/></clipPath></defs>
<rect x="291.8" y="101.9" width="54.3" height="70.2" fill="#cbf2f2"/>
<polygon points="319.0,104.7 346.1,120.5 346.1,151.5 319.0,167.3 291.9,151.5 291.9,120.5" fill="#5fa890" fill-opacity="0.38"/>
<polygon points="319.0,120.2 346.1,136.0 346.1,151.5 319.0,167.3 291.9,151.5 291.9,136.0" fill="#5fa890" fill-opacity="0.2"/>
<polygon points="291.9,120.5 319.0,136.3 346.1,120.5 346.1,136.0 319.0,151.8 291.9,136.0" fill="#5fa890" fill-opacity="0.2"/>
<polygon points="291.9,136.0 319.0,151.8 346.1,136.0 346.1,151.5 319.0,167.3 291.9,151.5" fill="#5fa890" fill-opacity="0.08"/>
<line x1="319.0" y1="102" x2="319.0" y2="172" stroke="#9fd8d0" stroke-width="0.8" opacity="0.6"/>
<polygon points="319.0,144.2 336.0,152.0 319.0,159.8 302.0,152.0" fill="none" stroke="#e2a873" stroke-width="1.1" stroke-opacity="0.9"/>
<polygon points="319.0,127.5 334.0,136.0 319.0,144.5 304.0,136.0" fill="none" stroke="#e2a873" stroke-width="1.1" stroke-opacity="0.8"/>
<polygon points="319.0,110.9 335.9,120.5 319.0,130.1 302.1,120.5" fill="none" stroke="#e2a873" stroke-width="1.1" stroke-opacity="1"/>
<line x1="288.3" y1="161.5" x2="288.3" y2="165" stroke="#8090e8" stroke-width="0.9"/>
<rect x="391" y="88" width="14" height="82" fill="#fff"/>
<rect x="461.9" y="90" width="2.2" height="5" fill="#fff"/>
<rect x="404.6" y="92.5" width="57.3" height="72.3" fill="#d8f6f6"/>
<polygon points="433.4,128.9 461.6,144.5 433.4,160.1 405.2,144.5" fill="#e0a060"/>
<polygon points="433.4,134.0 452.4,144.5 433.4,155.0 414.4,144.5" fill="none" stroke="#c8b890" stroke-width="1.4" stroke-opacity="0.55"/>
<polygon points="433.4,111.9 461.6,127.5 461.6,144.5 433.4,160.1 405.2,144.5 405.2,127.5" fill="#4f9c86" fill-opacity="0.42"/>
<path d="M405.2 145.1 L433.4 160.7 L461.6 145.1" fill="none" stroke="#e39152" stroke-width="1.1"/>
<polygon points="433.4,111.9 461.6,127.5 433.4,143.1 405.2,127.5" fill="#e0a060" fill-opacity="0.8"/>
<polygon points="433.4,117.0 452.4,127.5 433.4,138.0 414.4,127.5" fill="none" stroke="#b8c0a0" stroke-width="1.4" stroke-opacity="0.45"/>
<polygon points="433.4,94.8 461.6,110.4 461.6,127.5 433.4,143.1 405.2,127.5 405.2,110.4" fill="#4f9c86" fill-opacity="0.58"/>
<path d="M405.2 128.1 L433.4 143.7 L461.6 128.1" fill="none" stroke="#e39152" stroke-width="1.0"/>
<polygon points="433.4,94.5 461.6,110.4 461.6,112.1 433.4,128.0 405.2,112.1 405.2,110.4" fill="#f2a660"/>
<polygon points="433.4,98.9 454.4,110.4 433.4,121.9 412.4,110.4" fill="none" stroke="#8c9c7c" stroke-width="1.3"/>
<line x1="433.4" y1="94.8" x2="433.4" y2="160.1" stroke="#7a9a80" stroke-width="0.8" opacity="0.55"/>
<g stroke-width="0.8" stroke-linecap="round" opacity="0.85"><line x1="399.4" y1="157.8" x2="399.4" y2="153.3" stroke="#4060e0"/><line x1="399.4" y1="157.8" x2="396.4" y2="159.6" stroke="#e04040"/><line x1="399.4" y1="157.8" x2="402.4" y2="159.6" stroke="#30b060"/></g>
<rect x="474" y="100" width="11" height="79" fill="#fff"/>
<rect x="543" y="172" width="2.6" height="6" fill="#fff"/>
<rect x="484.8" y="103.3" width="58.4" height="73.4" fill="#cbf2f2"/>
<polygon points="514.3,125.6 543.5,141.6 543.5,158.4 514.3,174.4 485.1,158.4 485.1,141.6" fill="#5cbcac" fill-opacity="0.55"/>
<polygon points="514.3,150.2 528.3,158.0 514.3,165.8 500.3,158.0" fill="#d8b070" fill-opacity="0.8"/>
<polygon points="514.3,107.7 543.5,123.7 543.5,141.6 514.3,157.6 485.1,141.6 485.1,123.7" fill="#6f9a7c" fill-opacity="0.5"/>
<polygon points="514.3,129.9 532.7,140.2 514.3,150.5 495.9,140.2" fill="#d8a060" fill-opacity="0.62"/>
<polygon points="514.3,107.7 543.5,123.7 514.3,139.7 485.1,123.7" fill="#9cc0a8" fill-opacity="0.2"/>
<polygon points="514.0,118.6 523.3,124.0 514.0,129.4 504.7,124.0" fill="#eeaa6a"/>
<line x1="514.3" y1="103.5" x2="514.3" y2="176.5" stroke="#a8d8d0" stroke-width="0.8" opacity="0.5"/>
<g stroke-width="0.8" stroke-linecap="round" opacity="0.85"><line x1="481.0" y1="171.0" x2="481.0" y2="166.5" stroke="#4060e0"/><line x1="481.0" y1="171.0" x2="478.0" y2="172.8" stroke="#e04040"/><line x1="481.0" y1="171.0" x2="484.0" y2="172.8" stroke="#30b060"/></g>
<defs><marker id="ah" markerWidth="9" markerHeight="8" refX="7" refY="3" orient="auto" markerUnits="userSpaceOnUse"><path d="M0,0 L7.5,3 L0,6 L2,3 Z" fill="#000"/></marker></defs>
<ellipse cx="270" cy="197.8" rx="7.3" ry="15" fill="none" stroke="#000" stroke-width="1.3"/>
<ellipse cx="325" cy="224" rx="5.3" ry="15.5" fill="none" stroke="#000" stroke-width="1.3"/>
<ellipse cx="394.5" cy="245.5" rx="5.3" ry="7" fill="none" stroke="#000" stroke-width="1.3"/>
<line x1="269.0" y1="183.0" x2="290.5" y2="165.8" stroke="#000" stroke-width="1.45" marker-end="url(#ah)"/>
<line x1="327.5" y1="208.0" x2="400.0" y2="146.2" stroke="#000" stroke-width="1.45" marker-end="url(#ah)"/>
<line x1="398.0" y1="240.0" x2="480.2" y2="166.0" stroke="#000" stroke-width="1.45" marker-end="url(#ah)"/>
<line x1="67.0" y1="11.5" x2="584.4" y2="11.5" stroke="#2a2a2a" stroke-width="2.0"/>
<line x1="67.0" y1="256.8" x2="584.4" y2="256.8" stroke="#2a2a2a" stroke-width="2.0"/>
<line x1="239.3" y1="256.8" x2="239.3" y2="250.8" stroke="#2a2a2a" stroke-width="1.7"/>
<line x1="239.3" y1="11.5" x2="239.3" y2="17.7" stroke="#2a2a2a" stroke-width="1.7"/>
<line x1="411.9" y1="256.8" x2="411.9" y2="250.8" stroke="#2a2a2a" stroke-width="1.7"/>
<line x1="411.9" y1="11.5" x2="411.9" y2="17.7" stroke="#2a2a2a" stroke-width="1.7"/>
<line x1="67.0" y1="10.7" x2="67.0" y2="257.6" stroke="#0072BD" stroke-width="2.0"/>
<line x1="584.4" y1="10.7" x2="584.4" y2="257.6" stroke="#D95319" stroke-width="2.0"/>
<line x1="67.0" y1="11.5" x2="73.0" y2="11.5" stroke="#0072BD" stroke-width="1.8"/>
<line x1="67.0" y1="93.3" x2="73.0" y2="93.3" stroke="#0072BD" stroke-width="1.8"/>
<line x1="67.0" y1="175.0" x2="73.0" y2="175.0" stroke="#0072BD" stroke-width="1.8"/>
<line x1="67.0" y1="256.8" x2="73.0" y2="256.8" stroke="#0072BD" stroke-width="1.8"/>
<line x1="584.4" y1="11.5" x2="578.4" y2="11.5" stroke="#D95319" stroke-width="1.8"/>
<line x1="584.4" y1="60.6" x2="578.4" y2="60.6" stroke="#D95319" stroke-width="1.8"/>
<line x1="584.4" y1="109.6" x2="578.4" y2="109.6" stroke="#D95319" stroke-width="1.8"/>
<line x1="584.4" y1="158.7" x2="578.4" y2="158.7" stroke="#D95319" stroke-width="1.8"/>
<line x1="584.4" y1="207.7" x2="578.4" y2="207.7" stroke="#D95319" stroke-width="1.8"/>
<line x1="584.4" y1="256.8" x2="578.4" y2="256.8" stroke="#D95319" stroke-width="1.8"/>
<text x="61.3" y="17.4" font-size="23.5" fill="#0072BD" text-anchor="end" font-family="Liberation Serif, DejaVu Serif, serif" >15</text>
<text x="61.3" y="99.5" font-size="23.5" fill="#0072BD" text-anchor="end" font-family="Liberation Serif, DejaVu Serif, serif" >10</text>
<text x="61.3" y="181.2" font-size="23.5" fill="#0072BD" text-anchor="end" font-family="Liberation Serif, DejaVu Serif, serif" >5</text>
<text x="61.3" y="263.4" font-size="23.5" fill="#0072BD" text-anchor="end" font-family="Liberation Serif, DejaVu Serif, serif" >0</text>
<text x="590.3" y="17.3" font-size="23.5" fill="#D95319" text-anchor="start" font-family="Liberation Serif, DejaVu Serif, serif" >25</text>
<text x="590.3" y="66.5" font-size="23.5" fill="#D95319" text-anchor="start" font-family="Liberation Serif, DejaVu Serif, serif" >20</text>
<text x="590.3" y="115.0" font-size="23.5" fill="#D95319" text-anchor="start" font-family="Liberation Serif, DejaVu Serif, serif" >15</text>
<text x="590.3" y="164.8" font-size="23.5" fill="#D95319" text-anchor="start" font-family="Liberation Serif, DejaVu Serif, serif" >10</text>
<text x="590.3" y="212.7" font-size="23.5" fill="#D95319" text-anchor="start" font-family="Liberation Serif, DejaVu Serif, serif" >5</text>
<text x="590.3" y="263.6" font-size="23.5" fill="#D95319" text-anchor="start" font-family="Liberation Serif, DejaVu Serif, serif" >0</text>
<text x="67.5" y="282.2" font-size="23.5" fill="#2a2a2a" text-anchor="middle" font-family="Liberation Serif, DejaVu Serif, serif" >0.15</text>
<text x="239.6" y="282.2" font-size="23.5" fill="#2a2a2a" text-anchor="middle" font-family="Liberation Serif, DejaVu Serif, serif" >0.2</text>
<text x="412.2" y="282.2" font-size="23.5" fill="#2a2a2a" text-anchor="middle" font-family="Liberation Serif, DejaVu Serif, serif" >0.25</text>
<text x="584.7" y="282.2" font-size="23.5" fill="#2a2a2a" text-anchor="middle" font-family="Liberation Serif, DejaVu Serif, serif" >0.3</text>
<text y="311.5" font-size="25" fill="#2a2a2a" font-family="Liberation Serif, DejaVu Serif, serif"><tspan x="302.5" font-style="italic">h</tspan><tspan x="316.5" font-size="27" dy="-0.5">(</tspan><tspan x="326.5" dy="0.5" font-size="26" font-style="italic">λ</tspan><tspan x="340.7" font-size="27" dy="-0.5">)</tspan></text>
<line x1="523" y1="26.8" x2="536.8" y2="26.8" stroke="#0072BD" stroke-width="2.2"/>
<line x1="523" y1="49.7" x2="531.3" y2="49.7" stroke="#0072BD" stroke-width="2.2"/>
<line x1="523.2" y1="72.1" x2="536.5" y2="72.1" stroke="#0072BD" stroke-width="2.2" stroke-dasharray="2.1 1.4"/>
<text x="538.6" y="32.2" font-size="19.0" fill="#2a2a2a" text-anchor="start" font-family="Liberation Serif, DejaVu Serif, serif" font-style="italic" letter-spacing="3.1">CSR</text>
<text x="539.8" y="54.8" font-size="19.0" fill="#2a2a2a" text-anchor="start" font-family="Liberation Serif, DejaVu Serif, serif" font-style="italic" letter-spacing="3.1">SP</text>
<text x="539.8" y="77.2" font-size="19.0" fill="#2a2a2a" text-anchor="start" font-family="Liberation Serif, DejaVu Serif, serif" font-style="italic" letter-spacing="3.1">SR</text>
<text x="272.3" y="133.0" font-size="17.0" fill="#2a2a2a" text-anchor="start" font-family="Liberation Serif, DejaVu Serif, serif" font-style="italic">h</text>
<path d="M290.8 120.3 C288 120.3 287.6 121.5 287.6 123.5 L287.6 125.5 C287.6 127.3 286.8 128 283.3 128 C286.8 128 287.6 128.7 287.6 130.5 L287.6 132.5 C287.6 134.5 288 135.7 290.8 135.7" fill="none" stroke="#222" stroke-width="1"/>
<g transform="translate(0,0)">
<g transform="rotate(-90)" fill="#2a2a2a" font-family="Liberation Serif, DejaVu Serif, serif">
<line x1="-214.4" y1="8.4" x2="-214.4" y2="35" stroke="#2a2a2a" stroke-width="1.3"/>
<line x1="-144.3" y1="8.4" x2="-144.3" y2="35" stroke="#2a2a2a" stroke-width="1.3"/>
<line x1="-208.3" y1="21.9" x2="-151.5" y2="21.9" stroke="#2a2a2a" stroke-width="1.2"/>
<text y="15.6" font-size="19" font-style="italic"><tspan x="-208.3">ϕ</tspan><tspan x="-197.6" font-size="13.5" dy="3.6" letter-spacing="2.4">ref</tspan><tspan x="-174.6" dy="-2" font-size="18" font-style="normal">−</tspan><tspan x="-162.6" dy="-1.6" font-size="19">ϕ</tspan></text>
<text x="-181.8" y="36" font-size="17" text-anchor="middle">2<tspan font-style="italic">π</tspan></text>
<text x="-126.3" y="31" font-size="33" text-anchor="middle">×</text>
<text x="-108.9" y="27.6" font-size="25" letter-spacing="0.3">100</text>
<text transform="translate(-70.6,28.4) scale(1,1.27)" font-size="23.5">%</text>
<line x1="-228.9" y1="617.5" x2="-228.9" y2="642.5" stroke="#2a2a2a" stroke-width="1.3"/>
<line x1="-128.6" y1="617.5" x2="-128.6" y2="642.5" stroke="#2a2a2a" stroke-width="1.3"/>
<text x="-226.8" y="635.8" font-size="27" font-style="italic">T<tspan font-size="17.5" dy="6" letter-spacing="2.5" dx="-1">ref</tspan></text>
<text x="-166.7" y="639.8" font-size="32" text-anchor="middle">−</text>
<text x="-151.5" y="635.8" font-size="27" font-style="italic">T</text>
<text x="-110.5" y="639.6" font-size="33" text-anchor="middle">×</text>
<text x="-93.6" y="636.6" font-size="25">100</text>
<text transform="translate(-56.8,637.9) scale(1,1.27)" font-size="23.5">%</text>
</g></g>
</svg>
</body></html>
